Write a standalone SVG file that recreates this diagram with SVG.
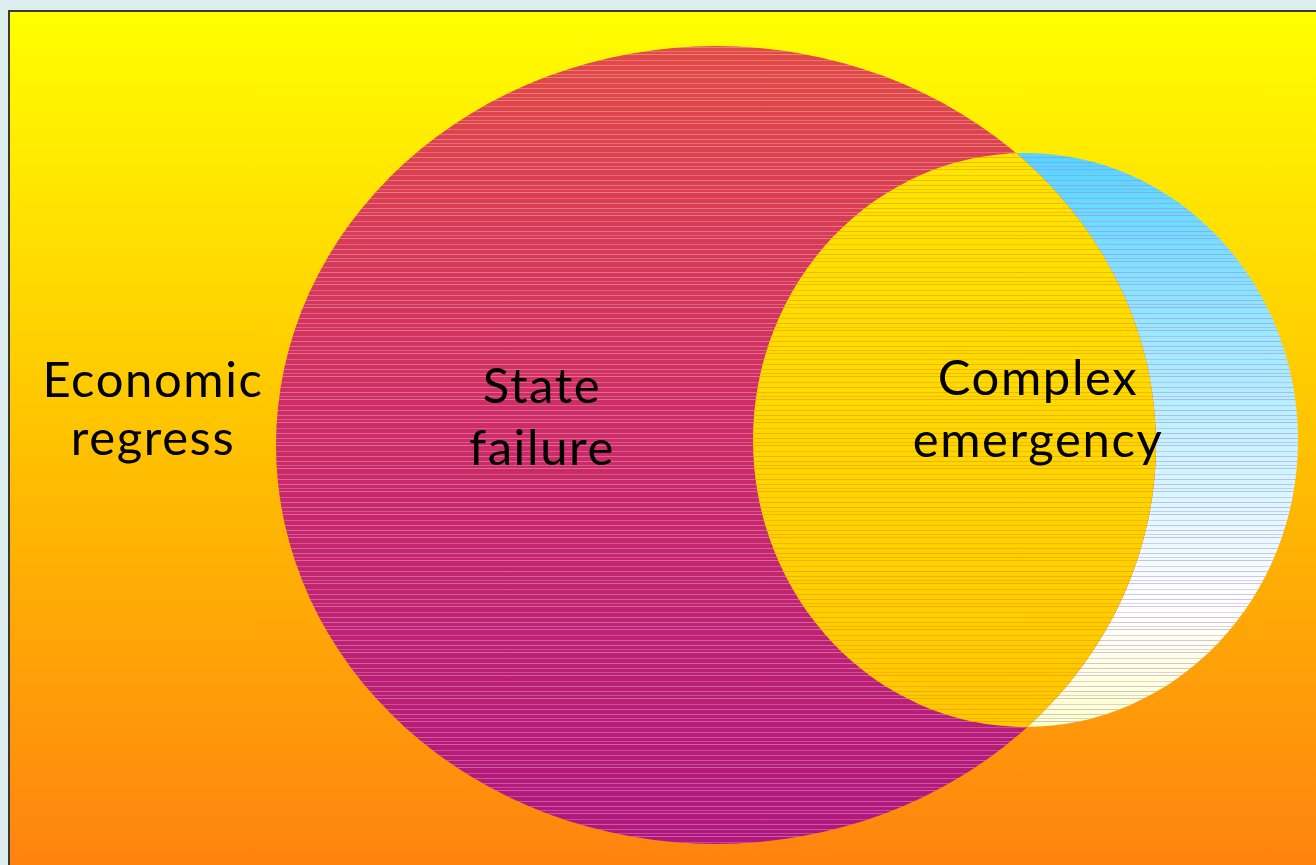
<svg xmlns="http://www.w3.org/2000/svg" width="1316" height="865" viewBox="0 0 1316 865">
  <style>
    .label { font-family: Lato, "Open Sans", "Liberation Sans", sans-serif; font-size: 49px; letter-spacing: 1.6px; fill: #000; text-anchor: middle; }
  </style>
  <defs>
    <linearGradient id="bgGrad" x1="0" y1="0" x2="0" y2="1">
      <stop offset="0" stop-color="#ffff00"/>
      <stop offset="0.5" stop-color="#ffc200"/>
      <stop offset="1" stop-color="#ff820f"/>
    </linearGradient>
    <linearGradient id="stateGrad" x1="0" y1="0" x2="0" y2="1">
      <stop offset="0" stop-color="#e24b46"/>
      <stop offset="0.45" stop-color="#cf2d66"/>
      <stop offset="1" stop-color="#b0177f"/>
    </linearGradient>
    <linearGradient id="complexGrad" x1="0" y1="0" x2="0" y2="1">
      <stop offset="0" stop-color="#55d4ff"/>
      <stop offset="0.5" stop-color="#c6f3ff"/>
      <stop offset="0.78" stop-color="#ffffff"/>
      <stop offset="1" stop-color="#ffffc8"/>
    </linearGradient>
    <linearGradient id="overlapGrad" x1="0" y1="0" x2="0" y2="1">
      <stop offset="0" stop-color="#ffe600"/>
      <stop offset="1" stop-color="#ffc800"/>
    </linearGradient>
    <!-- thin horizontal banding used over the circle fills -->
    <pattern id="bandLight" width="40" height="23" patternUnits="userSpaceOnUse">
      <rect x="0" y="1" width="40" height="1" fill="#ffffff" fill-opacity="0.28"/>
      <rect x="0" y="5" width="40" height="1" fill="#ffffff" fill-opacity="0.22"/>
      <rect x="0" y="8" width="40" height="1" fill="#ffffff" fill-opacity="0.3"/>
      <rect x="0" y="14" width="40" height="1" fill="#ffffff" fill-opacity="0.22"/>
      <rect x="0" y="19" width="40" height="1" fill="#ffffff" fill-opacity="0.28"/>
    </pattern>
    <pattern id="bandDark" width="40" height="23" patternUnits="userSpaceOnUse">
      <rect x="0" y="1" width="40" height="1" fill="#e08a00" fill-opacity="0.45"/>
      <rect x="0" y="5" width="40" height="1" fill="#e08a00" fill-opacity="0.35"/>
      <rect x="0" y="8" width="40" height="1" fill="#e08a00" fill-opacity="0.45"/>
      <rect x="0" y="14" width="40" height="1" fill="#e08a00" fill-opacity="0.35"/>
      <rect x="0" y="19" width="40" height="1" fill="#e08a00" fill-opacity="0.45"/>
    </pattern>
    <pattern id="bandViolet" width="40" height="23" patternUnits="userSpaceOnUse">
      <rect x="0" y="1" width="40" height="1" fill="#9a7fd0" fill-opacity="0.45"/>
      <rect x="0" y="5" width="40" height="1" fill="#9a7fd0" fill-opacity="0.35"/>
      <rect x="0" y="8" width="40" height="1" fill="#9a7fd0" fill-opacity="0.45"/>
      <rect x="0" y="14" width="40" height="1" fill="#9a7fd0" fill-opacity="0.35"/>
      <rect x="0" y="19" width="40" height="1" fill="#9a7fd0" fill-opacity="0.45"/>
    </pattern>
    <clipPath id="stateClip">
      <ellipse cx="716" cy="445" rx="440" ry="399"/>
    </clipPath>
  </defs>

  <!-- page surround -->
  <rect x="0" y="0" width="1316" height="865" fill="#deeeee"/>

  <!-- background panel -->
  <g id="background">
    <rect x="9" y="11" width="1310" height="860" fill="url(#bgGrad)" stroke="#3a3a3a" stroke-width="2"/>
  </g>

  <!-- complex emergency circle -->
  <g id="complex-emergency">
    <ellipse cx="1025.5" cy="440" rx="272.5" ry="287" fill="url(#complexGrad)"/>
    <ellipse cx="1025.5" cy="440" rx="272.5" ry="287" fill="url(#bandViolet)"/>
  </g>

  <!-- state failure circle -->
  <g id="state-failure">
    <ellipse cx="716" cy="445" rx="440" ry="399" fill="url(#stateGrad)"/>
    <ellipse cx="716" cy="445" rx="440" ry="399" fill="url(#bandLight)"/>
  </g>

  <!-- overlap of the two circles -->
  <g id="overlap" clip-path="url(#stateClip)">
    <ellipse cx="1025.5" cy="440" rx="272.5" ry="287" fill="url(#overlapGrad)"/>
    <ellipse cx="1025.5" cy="440" rx="272.5" ry="287" fill="url(#bandDark)"/>
  </g>

  <g id="labels">
    <g id="economic-regress">
      <text class="label" x="153" y="397">Economic</text>
      <text class="label" x="153" y="455">regress</text>
    </g>
    <g id="state-failure-label">
      <text class="label" x="542" y="403">State</text>
      <text class="label" x="542" y="465">failure</text>
    </g>
    <g id="complex-emergency-label">
      <text class="label" x="1038" y="395">Complex</text>
      <text class="label" x="1038" y="457">emergency</text>
    </g>
  </g>
</svg>
